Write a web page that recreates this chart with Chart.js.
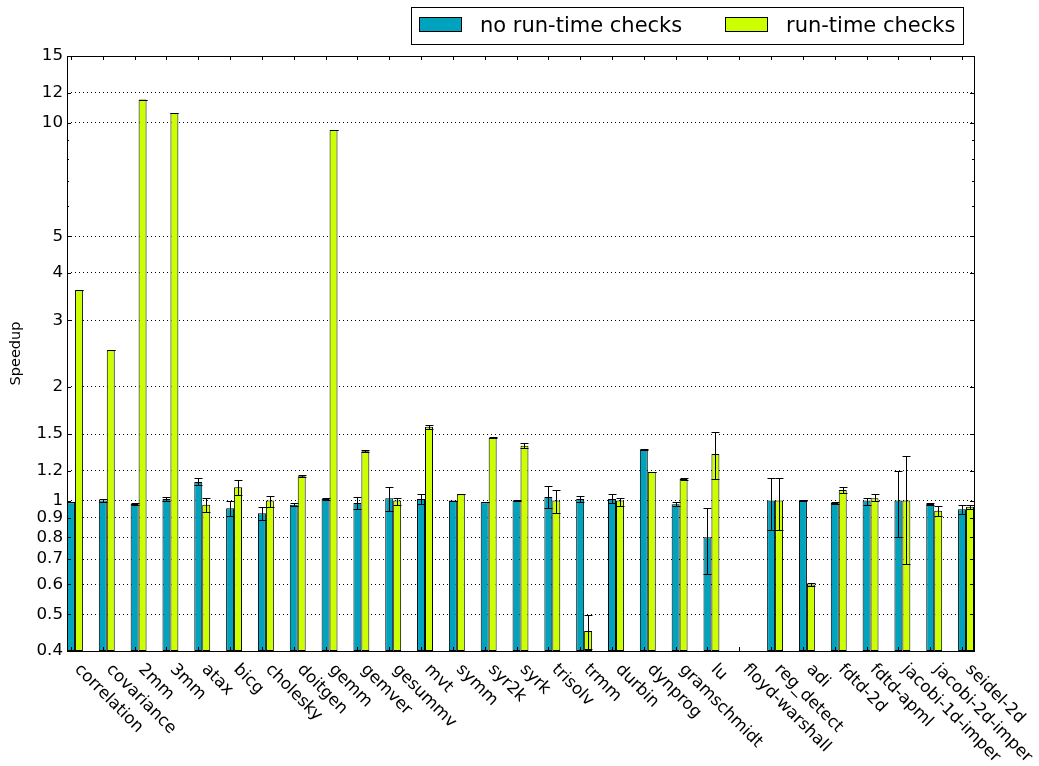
<!DOCTYPE html>
<html>
<head>
<meta charset="utf-8">
<script src="https://cdn.jsdelivr.net/npm/chart.js@4.4.0/dist/chart.umd.min.js"></script>
<style>
  html, body { margin: 0; padding: 0; background: #fff; }
</style>
</head>
<body>
<canvas id="speedup" width="1039" height="766"></canvas>
<script>
// Benchmarks (x axis)
const benchmarks = ['correlation', 'covariance', '2mm', '3mm', 'atax', 'bicg', 'cholesky', 'doitgen',
  'gemm', 'gemver', 'gesummv', 'mvt', 'symm', 'syr2k', 'syrk', 'trisolv', 'trmm', 'durbin',
  'dynprog', 'gramschmidt', 'lu', 'floyd-warshall', 'reg_detect', 'adi', 'fdtd-2d', 'fdtd-apml',
  'jacobi-1d-imper', 'jacobi-2d-imper', 'seidel-2d'];

// Speedup sans vérifications
const noChecks = [0.99, 1.0, 0.98, 1.01, 1.12, 0.955, 0.925, 0.975, 1.01, 0.985, 1.015, 1.01, 1.0, 0.99,
  1.0, 1.022, 1.01, 1.01, 1.365, 0.978, 0.80, null, 1.0, 1.0, 0.985, 1.0, 1.0, 0.98, 0.948];
const noChecksLo = [0.99, 0.99, 0.975, 1.0, 1.10, 0.91, 0.89, 0.97, 1.005, 0.95, 0.94, 0.98, 1.0, 0.99,
  0.995, 0.955, 0.99, 0.985, 1.36, 0.965, 0.638, null, 0.834, 0.995, 0.98, 0.975, 0.8, 0.975, 0.92];
const noChecksHi = [0.99, 1.01, 0.985, 1.02, 1.15, 1.0, 0.96, 0.985, 1.015, 1.02, 1.085, 1.04, 1.0, 0.99,
  1.005, 1.09, 1.03, 1.04, 1.37, 0.99, 0.955, null, 1.15, 1.005, 0.99, 1.017, 1.2, 0.985, 0.975];

// Speedup avec vérifications
const withChecks = [3.6, 2.5, 11.5, 10.6, 0.975, 1.084, 1.0, 1.16, 9.55, 1.35, 1.0, 1.568, 1.04, 1.464,
  1.397, 1.0, 0.452, 1.0, 1.19, 1.14, 1.328, null, 1.0, 0.60, 1.066, 1.015, 1.0, 0.94, 0.963];
const withChecksLo = [3.6, 2.5, 11.5, 10.6, 0.934, 1.034, 0.96, 1.155, 9.55, 1.345, 0.975, 1.55, 1.04, 1.46,
  1.38, 0.925, 0.404, 0.97, 1.19, 1.135, 1.14, null, 0.834, 0.595, 1.05, 1.0, 0.681, 0.91, 0.95];
const withChecksHi = [3.6, 2.5, 11.5, 10.6, 1.017, 1.135, 1.03, 1.167, 9.55, 1.36, 1.017, 1.58, 1.04, 1.47,
  1.42, 1.066, 0.499, 1.015, 1.19, 1.15, 1.515, null, 1.15, 0.605, 1.085, 1.04, 1.309, 0.97, 0.975];

const yTicks = [0.4, 0.5, 0.6, 0.7, 0.8, 0.9, 1, 1.2, 1.5, 2, 3, 4, 5, 10, 12, 15];
const yMinor = [6, 7, 8, 9];

const BLUE = '#00a3bd';
const GREEN = '#ccff00';
const FONT = '"DejaVu Sans", sans-serif';

// barres d'erreur, cadre, ticks, labels et légende
const extras = {
  id: 'extras',
  afterDatasetsDraw(chart) {
    const ctx = chart.ctx;
    const y = chart.scales.y;
    ctx.save();
    ctx.strokeStyle = '#000';
    ctx.lineWidth = 1;
    chart.data.datasets.forEach((ds, d) => {
      const meta = chart.getDatasetMeta(d);
      meta.data.forEach((bar, i) => {
        if (ds.errLo[i] == null) return;
        const x = Math.round(bar.x) + 0.5;
        const half = bar.width / 2;
        const y1 = Math.round(y.getPixelForValue(ds.errLo[i])) + 0.5;
        const y2 = Math.round(y.getPixelForValue(ds.errHi[i])) + 0.5;
        ctx.beginPath();
        ctx.moveTo(x, y1); ctx.lineTo(x, y2);
        ctx.moveTo(x - half, y1); ctx.lineTo(x + half, y1);
        ctx.moveTo(x - half, y2); ctx.lineTo(x + half, y2);
        ctx.stroke();
      });
    });
    ctx.restore();
  },
  afterDraw(chart) {
    const ctx = chart.ctx;
    const a = chart.chartArea;
    const xs = chart.scales.x;
    const ys = chart.scales.y;
    ctx.save();
    ctx.strokeStyle = '#000';
    ctx.lineWidth = 1;

    // ticks vers l'intérieur
    ctx.beginPath();
    yTicks.forEach(v => {
      const py = Math.round(ys.getPixelForValue(v)) + 0.5;
      ctx.moveTo(a.left, py); ctx.lineTo(a.left + 4, py);
      ctx.moveTo(a.right, py); ctx.lineTo(a.right - 4, py);
    });
    yMinor.forEach(v => {
      const py = Math.round(ys.getPixelForValue(v)) + 0.5;
      ctx.moveTo(a.left, py); ctx.lineTo(a.left + 2, py);
      ctx.moveTo(a.right, py); ctx.lineTo(a.right - 2, py);
    });
    benchmarks.forEach((_, i) => {
      const px = Math.round(xs.getPixelForValue(i - 0.125)) + 0.5;
      ctx.moveTo(px, a.top); ctx.lineTo(px, a.top + 4);
      ctx.moveTo(px, a.bottom); ctx.lineTo(px, a.bottom - 4);
    });
    ctx.stroke();

    // cadre
    ctx.strokeRect(Math.round(a.left) + 0.5, Math.round(a.top) + 0.5,
      Math.round(a.right - a.left), Math.round(a.bottom - a.top));

    // labels des benchmarks, rotation -45°
    ctx.fillStyle = '#000';
    ctx.font = '16.7px ' + FONT;
    ctx.textAlign = 'left';
    ctx.textBaseline = 'alphabetic';
    benchmarks.forEach((name, i) => {
      const px = xs.getPixelForValue(i - 0.125);
      ctx.save();
      ctx.translate(px + 3, a.bottom + 19);
      ctx.rotate(Math.PI / 4);
      ctx.fillText(name, 0, 0);
      ctx.restore();
    });

    // légende
    ctx.strokeRect(411.5, 7.5, 552, 37);
    ctx.font = '21px ' + FONT;
    chart.data.datasets.forEach((ds, d) => {
      const bx = d === 0 ? 419 : 725;
      ctx.fillStyle = ds.backgroundColor;
      ctx.fillRect(bx, 17, 43, 15);
      ctx.strokeRect(bx + 0.5, 17.5, 42, 14);
      ctx.fillStyle = '#000';
      ctx.fillText(ds.label, bx + 61, 31.5);
    });
    ctx.restore();
  }
};

const datasets = [
  { label: 'no run-time checks', values: noChecks, lo: noChecksLo, hi: noChecksHi, color: BLUE },
  { label: 'run-time checks', values: withChecks, lo: withChecksLo, hi: withChecksHi, color: GREEN }
].map(s => ({
  label: s.label,
  data: benchmarks.map((_, i) => ({ x: i, y: s.values[i] })),
  errLo: s.lo,
  errHi: s.hi,
  backgroundColor: s.color,
  borderColor: '#000',
  borderWidth: 1,
  borderSkipped: false,
  categoryPercentage: 0.5,
  barPercentage: 1
}));

new Chart(
  document.getElementById('speedup'),
  {
    type: 'bar',
    data: { datasets: datasets },
    plugins: [extras],
    options: {
      responsive: false,
      animation: false,
      devicePixelRatio: 1,
      layout: { padding: { top: 56, right: 65, bottom: 0, left: 0 } },
      scales: {
        x: {
          type: 'linear',
          min: -0.25,
          max: 28.25,
          offset: false,
          grid: { display: false, offset: false },
          border: { display: false },
          ticks: { display: false },
          afterFit: s => { s.height = 115; }
        },
        y: {
          type: 'logarithmic',
          min: 0.4,
          max: 15,
          afterBuildTicks: s => { s.ticks = yTicks.map(v => ({ value: v })); },
          afterFit: s => { s.width = 67; },
          ticks: {
            autoSkip: false,
            padding: 4,
            color: '#000',
            font: { family: FONT, size: 16.7 },
            callback: v => String(v)
          },
          grid: {
            color: '#000',
            lineWidth: 1,
            drawTicks: false
          },
          border: { display: false, dash: [1, 3] },
          title: {
            display: true,
            text: 'Speedup',
            color: '#000',
            font: { family: FONT, size: 14.5 },
            padding: { top: 8, bottom: 0 }
          }
        }
      },
      plugins: {
        legend: { display: false },
        tooltip: { enabled: false }
      }
    }
  }
);
</script>
</body>
</html>
